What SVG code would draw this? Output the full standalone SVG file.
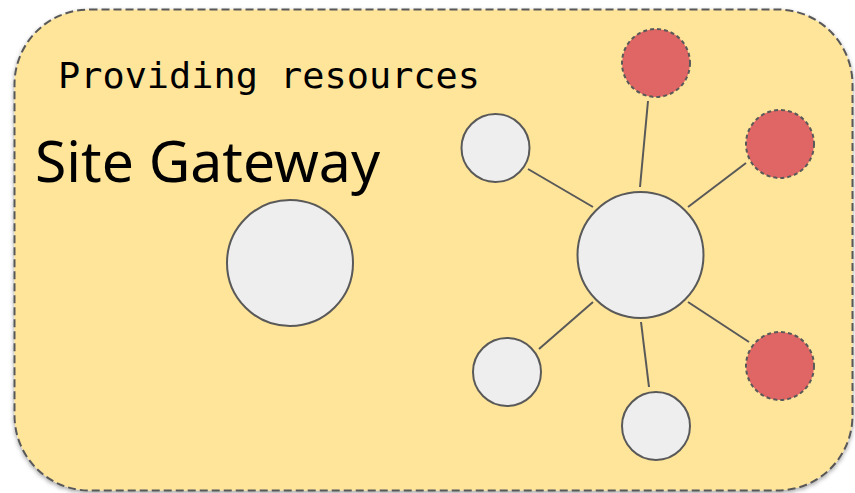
<svg xmlns="http://www.w3.org/2000/svg" width="855" height="493" viewBox="0 0 855 493">
  <defs>
    <filter id="shadow" x="-5%" y="-5%" width="110%" height="112%">
      <feDropShadow dx="0" dy="2" stdDeviation="2" flood-color="#000" flood-opacity="0.35"/>
    </filter>
    <style>
      .frame { fill: #ffe599; stroke: #595959; stroke-width: 2; stroke-dasharray: 8 4; }
      .node { fill: #eeeeee; stroke: #595959; stroke-width: 2; }
      .spare { fill: #e06666; stroke: #595959; stroke-width: 2; stroke-dasharray: 4 3; }
      .link { stroke: #595959; stroke-width: 2; fill: none; }
      .mono { font-family: "DejaVu Sans Mono", "Liberation Mono", monospace; font-size: 35px; fill: #000; }
      .title { font-family: "Noto Sans", "Open Sans", sans-serif; font-size: 57px; fill: #000; }
    </style>
  </defs>

  <g id="site-gateway">
    <rect class="frame" x="14.5" y="9.5" width="838" height="481" rx="75" ry="75" filter="url(#shadow)"/>
    <text class="mono" x="58" y="88" textLength="422" lengthAdjust="spacingAndGlyphs">Providing resources</text>
    <text class="title" x="35" y="182" textLength="345" lengthAdjust="spacingAndGlyphs">Site Gateway</text>
  </g>

  <g id="connectors">
    <line class="link" x1="528" y1="169" x2="593" y2="207"/>
    <line class="link" x1="648" y1="101" x2="640" y2="187"/>
    <line class="link" x1="746" y1="163" x2="688" y2="207"/>
    <line class="link" x1="593" y1="302" x2="539" y2="349"/>
    <line class="link" x1="641" y1="322" x2="649" y2="387"/>
    <line class="link" x1="688" y1="302" x2="749" y2="342"/>
  </g>

  <g id="gateway-node"><circle class="node" cx="290" cy="263" r="63"/></g>
  <g id="hub"><circle class="node" cx="640.5" cy="255" r="63"/></g>
  <g id="peer-top-left"><circle class="node" cx="495.5" cy="148" r="34"/></g>
  <g id="peer-bottom-left"><circle class="node" cx="507" cy="372" r="34"/></g>
  <g id="peer-bottom"><circle class="node" cx="656" cy="426" r="34"/></g>
  <g id="spare-top"><circle class="spare" cx="656" cy="63" r="34"/></g>
  <g id="spare-right"><circle class="spare" cx="780" cy="144" r="34"/></g>
  <g id="spare-bottom-right"><circle class="spare" cx="780" cy="366" r="34"/></g>
</svg>
